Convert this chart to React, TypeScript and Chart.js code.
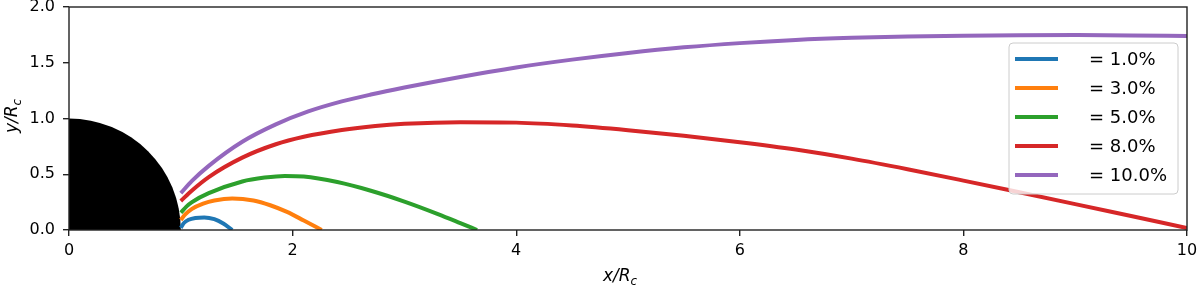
import React, { useEffect, useRef } from "react";
import { Chart, registerables } from "chart.js";

Chart.register(...registerables);

// ---- data ----
const LEGEND_LABELS = ["= 1.0%", "= 3.0%", "= 5.0%", "= 8.0%", "= 10.0%"];
const COLORS = ["#1f77b4", "#ff7f0e", "#2ca02c", "#d62728", "#9467bd"];

const X_EPS1 = [1.0, 1.03, 1.07, 1.13, 1.21, 1.3, 1.38, 1.46];
const Y_EPS1 = [0.02, 0.065, 0.092, 0.108, 0.113, 0.097, 0.058, 0.0];

const X_EPS3 = [1.0, 1.04, 1.1, 1.2, 1.3, 1.46, 1.65, 1.8, 1.95, 2.1, 2.26];
const Y_EPS3 = [0.09, 0.14, 0.19, 0.237, 0.265, 0.283, 0.265, 0.222, 0.162, 0.085, 0.0];

const X_EPS5 = [1.0, 1.05, 1.1, 1.25, 1.55, 1.75, 1.93, 2.1, 2.4, 2.7, 3.0, 3.3, 3.5, 3.65];
const Y_EPS5 = [0.155, 0.21, 0.25, 0.33, 0.435, 0.47, 0.485, 0.48, 0.43, 0.352, 0.255, 0.143, 0.062, 0.0];

const X_EPS8 = [1.0, 1.1, 1.25, 1.55, 1.85, 2.1, 2.44, 2.74, 3.0, 3.5, 4.0, 4.5, 5.0, 5.5, 6.0, 6.5, 7.0, 7.5, 8.0, 8.5, 9.0, 9.5, 10];
const Y_EPS8 = [0.26, 0.355, 0.475, 0.649, 0.769, 0.836, 0.897, 0.933, 0.952, 0.967, 0.963, 0.937, 0.895, 0.845, 0.788, 0.722, 0.64, 0.545, 0.443, 0.338, 0.232, 0.125, 0.018];

const X_EPS10 = [1.0, 1.1, 1.25, 1.55, 1.85, 2.14, 2.44, 2.7, 3.0, 3.5, 4.0, 4.5, 5.0, 5.5, 6.0, 6.5, 7.0, 7.5, 8.0, 8.5, 9.0, 9.5, 10];
const Y_EPS10 = [0.33, 0.44, 0.575, 0.791, 0.947, 1.063, 1.153, 1.215, 1.278, 1.373, 1.458, 1.528, 1.588, 1.638, 1.676, 1.705, 1.724, 1.736, 1.743, 1.747, 1.748, 1.745, 1.739];

const SERIES_X = [X_EPS1, X_EPS3, X_EPS5, X_EPS8, X_EPS10];
const SERIES_Y = [Y_EPS1, Y_EPS3, Y_EPS5, Y_EPS8, Y_EPS10];

const X_TICKS = [0, 2, 4, 6, 8, 10];
const X_TICK_LABELS = ["0", "2", "4", "6", "8", "10"];
const Y_TICKS = [0, 0.5, 1.0, 1.5, 2.0];
const Y_TICK_LABELS = ["0.0", "0.5", "1.0", "1.5", "2.0"];

const X_MIN = 0, X_MAX = 10, Y_MIN = 0, Y_MAX = 2;
const CORE_RADIUS = 1;

const FONT = "'DejaVu Sans', sans-serif";

function drawMathLabel(ctx: CanvasRenderingContext2D, main: string, sub: string, size: number) {
  ctx.font = `oblique ${size}px ${FONT}`;
  const w1 = ctx.measureText(main).width;
  ctx.font = `oblique ${size * 0.7}px ${FONT}`;
  const w2 = ctx.measureText(sub).width;
  const total = w1 + w2;
  ctx.textBaseline = "alphabetic";
  ctx.textAlign = "left";
  ctx.font = `oblique ${size}px ${FONT}`;
  ctx.fillText(main, -total / 2, 0);
  ctx.font = `oblique ${size * 0.7}px ${FONT}`;
  ctx.fillText(sub, -total / 2 + w1, size * 0.22);
}

const decorPlugin = {
  id: "decor",
  beforeDatasetsDraw(chart: any) {
    const { ctx, chartArea, scales } = chart;
    const xs = scales.x, ys = scales.y;
    const cx = xs.getPixelForValue(0);
    const cy = ys.getPixelForValue(0);
    const r = xs.getPixelForValue(CORE_RADIUS) - cx;
    const ry = cy - ys.getPixelForValue(CORE_RADIUS);
    ctx.save();
    ctx.beginPath();
    ctx.rect(chartArea.left, chartArea.top, chartArea.right - chartArea.left, chartArea.bottom - chartArea.top);
    ctx.clip();
    ctx.beginPath();
    ctx.moveTo(cx, cy);
    ctx.ellipse(cx, cy, r, ry, 0, -Math.PI / 2, 0);
    ctx.closePath();
    ctx.fillStyle = "#000";
    ctx.fill();
    ctx.restore();
  },
  afterDatasetsDraw(chart: any) {
    const { ctx, chartArea } = chart;
    // frame
    ctx.save();
    ctx.strokeStyle = "#222";
    ctx.lineWidth = 1.4;
    ctx.strokeRect(chartArea.left, chartArea.top, chartArea.right - chartArea.left, chartArea.bottom - chartArea.top);
    ctx.restore();

    // legend
    const lx = 1009, ly = 43, lw = 169, lh = 151, rad = 4;
    ctx.save();
    ctx.beginPath();
    ctx.moveTo(lx + rad, ly);
    ctx.lineTo(lx + lw - rad, ly);
    ctx.quadraticCurveTo(lx + lw, ly, lx + lw, ly + rad);
    ctx.lineTo(lx + lw, ly + lh - rad);
    ctx.quadraticCurveTo(lx + lw, ly + lh, lx + lw - rad, ly + lh);
    ctx.lineTo(lx + rad, ly + lh);
    ctx.quadraticCurveTo(lx, ly + lh, lx, ly + lh - rad);
    ctx.lineTo(lx, ly + rad);
    ctx.quadraticCurveTo(lx, ly, lx + rad, ly);
    ctx.closePath();
    ctx.fillStyle = "rgba(255,255,255,0.8)";
    ctx.fill();
    ctx.strokeStyle = "#cccccc";
    ctx.lineWidth = 1;
    ctx.stroke();
    const datasets = chart.data.datasets;
    datasets.forEach((ds: any, i: number) => {
      const y = 59 + i * 29;
      ctx.beginPath();
      ctx.moveTo(1015, y);
      ctx.lineTo(1058, y);
      ctx.strokeStyle = ds.borderColor;
      ctx.lineWidth = 4;
      ctx.stroke();
      ctx.fillStyle = "#000";
      ctx.font = `18px ${FONT}`;
      ctx.textAlign = "left";
      ctx.textBaseline = "middle";
      ctx.fillText(ds.label, 1089, y + 1);
    });
    ctx.restore();

    // axis titles
    ctx.save();
    ctx.fillStyle = "#000";
    ctx.translate(620, 281);
    drawMathLabel(ctx, "x/R", "c", 17);
    ctx.restore();
    ctx.save();
    ctx.fillStyle = "#000";
    ctx.translate(17, 116);
    ctx.rotate(-Math.PI / 2);
    drawMathLabel(ctx, "y/R", "c", 17);
    ctx.restore();
  },
};

export default function App() {
  const canvasRef = useRef<HTMLCanvasElement | null>(null);

  useEffect(() => {
    const canvas = canvasRef.current;
    if (!canvas) return;
    const datasets = SERIES_X.map((xs, i) => ({
      label: LEGEND_LABELS[i],
      data: xs.map((x, j) => ({ x, y: SERIES_Y[i][j] })),
      borderColor: COLORS[i],
      backgroundColor: COLORS[i],
      borderWidth: 4,
      pointRadius: 0,
      showLine: true,
      fill: false,
      cubicInterpolationMode: "monotone" as const,
      order: SERIES_X.length - i,
    }));

    const tickGrid = {
      display: true,
      drawOnChartArea: false,
      drawTicks: true,
      tickLength: 6,
      color: "#222",
      lineWidth: 1.4,
    };

    const chart = new Chart(canvas, {
      type: "scatter",
      data: { datasets },
      options: {
        animation: false,
        responsive: false,
        maintainAspectRatio: false,
        layout: { padding: { left: 0, top: 7, right: 13, bottom: 0 } },
        plugins: { legend: { display: false }, tooltip: { enabled: false } },
        scales: {
          x: {
            type: "linear",
            min: X_MIN,
            max: X_MAX,
            grid: tickGrid,
            border: { display: false },
            afterBuildTicks: (scale: any) => {
              scale.ticks = X_TICKS.map((v) => ({ value: v }));
            },
            afterFit: (scale: any) => {
              scale.height = 56;
              scale.paddingLeft = 0;
              scale.paddingRight = 0;
              scale.paddingTop = 0;
              scale.paddingBottom = 0;
            },
            ticks: {
              color: "#000",
              font: { family: FONT, size: 16 },
              padding: 5,
              maxRotation: 0,
              autoSkip: false,
              callback: (v: any) => {
                const i = X_TICKS.indexOf(Number(v));
                return i >= 0 ? X_TICK_LABELS[i] : "";
              },
            },
          },
          y: {
            type: "linear",
            min: Y_MIN,
            max: Y_MAX,
            grid: tickGrid,
            border: { display: false },
            afterBuildTicks: (scale: any) => {
              scale.ticks = Y_TICKS.map((v) => ({ value: v }));
            },
            afterFit: (scale: any) => {
              scale.width = 69;
              scale.paddingLeft = 0;
              scale.paddingRight = 0;
              scale.paddingTop = 0;
              scale.paddingBottom = 0;
            },
            ticks: {
              color: "#000",
              font: { family: FONT, size: 16 },
              padding: 8,
              autoSkip: false,
              callback: (v: any) => {
                const i = Y_TICKS.indexOf(Number(v));
                return i >= 0 ? Y_TICK_LABELS[i] : "";
              },
            },
          },
        },
      },
      plugins: [decorPlugin],
    });
    return () => chart.destroy();
  }, []);

  return (
    <div style={{ position: "absolute", left: 0, top: 0, width: 1200, height: 286, background: "#fff" }}>
      <canvas ref={canvasRef} width={1200} height={286} style={{ display: "block" }} />
    </div>
  );
}
